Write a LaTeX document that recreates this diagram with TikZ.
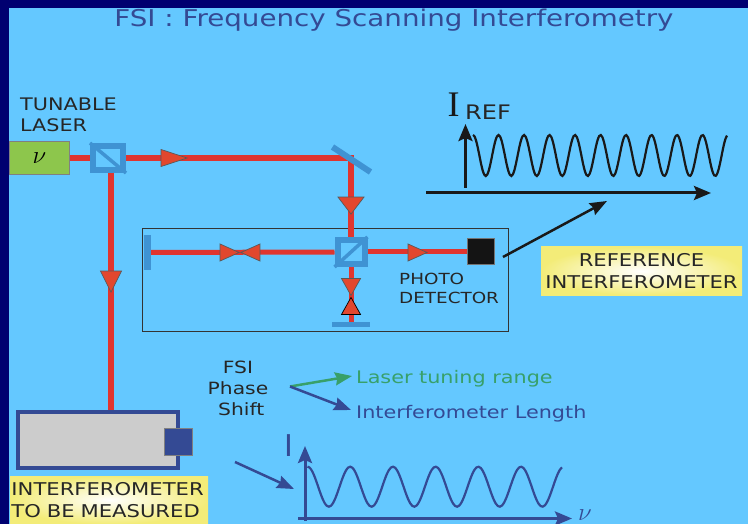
\documentclass[tikz,border=0pt]{standalone}
\usepackage{fontspec}
\setmainfont[FakeStretch=1.2]{DejaVu Sans}
\newfontfamily\seriffont{Liberation Serif}
\newfontfamily\plainfont{DejaVu Sans}
\usetikzlibrary{arrows.meta,shapes.geometric}
\definecolor{skyback}{HTML}{64C8FF}
\definecolor{navyback}{HTML}{000070}
\definecolor{beamred}{HTML}{E0352F}
\definecolor{tipred}{HTML}{E2472E}
\definecolor{optblue}{HTML}{3F93D3}
\definecolor{inkblue}{HTML}{344A94}
\definecolor{inkgreen}{HTML}{38A06A}
\definecolor{labelyellow}{HTML}{F3EC78}
\definecolor{lasergreen}{HTML}{8DC64C}
\tikzset{
	beam/.style={draw=beamred,line width=6pt},
	thinbeam/.style={draw=beamred,line width=5pt},
	tip/.style={isosceles triangle,isosceles triangle stretches,anchor=apex,fill=tipred,draw=black!65,line width=.7pt,inner sep=0pt,minimum width=26pt,minimum height=17pt},
	sidetip/.style={tip,minimum width=17pt,minimum height=19pt},
	smalltip/.style={tip,minimum width=19pt,minimum height=17pt},
	splitter/.style={draw=optblue,line width=6pt,inner sep=0pt},
	mirror/.style={fill=optblue,inner sep=0pt},
	txt/.style={inner sep=0pt,text=black!85,font=\fontsize{17.3}{21}\selectfont,align=left},
	yellowlabel/.style={inner sep=0pt,inner color=white,outer color=labelyellow,font=\fontsize{17.6}{22}\selectfont,text=black!85,align=center},
	bigarrow/.style={line width=3pt,-{Stealth[length=17pt,width=14pt,inset=3pt]}},
	thinarrow/.style={line width=2.5pt,-{Stealth[length=17pt,width=13pt,inset=2pt]}}
}
\begin{document}
\begin{tikzpicture}[x=1pt,y=-1pt]
	\useasboundingbox (0,0) rectangle (748,524);
	\fill[navyback] (0,0) rectangle (748,524);
	\fill[skyback] (9,8) rectangle (748,524);
	\node[inkblue,inner sep=0pt,font=\fontsize{23.1}{28}\selectfont] (title) at (394,20) {FSI : Frequency Scanning Interferometry};

	\node[txt,anchor=west] (lasertxt) at (20,115) {TUNABLE\\LASER};
	\node[fill=lasergreen,draw=black!50,line width=1pt,minimum width=60pt,minimum height=33pt,inner sep=0pt] (laser) at (39.5,158) {\fontsize{27}{27}\selectfont$\nu$};
	\node[splitter,minimum width=30pt,minimum height=24pt] (splitA) at (108,158) {};
	\node[splitter,minimum width=27pt,minimum height=24pt] (splitB) at (351,252) {};
	\coordinate (beamend) at (111,410);
	\node[draw=black!80,line width=.8pt,minimum width=366pt,minimum height=103pt,inner sep=0pt] (refbox) at (325,279.5) {};
	\node[mirror,minimum width=7pt,minimum height=35pt] (mirrorL) at (147.5,252.5) {};
	\node[mirror,minimum width=38pt,minimum height=5pt] (mirrorB) at (351,324.5) {};
	\node[fill=black!92,draw=black!55,line width=1pt,minimum width=27pt,minimum height=26pt,inner sep=0pt] (detector) at (481,252) {};
	\node[txt,anchor=west,font=\fontsize{15.3}{19}\selectfont] (dettxt) at (399,288.5) {PHOTO\\DETECTOR};

	\draw[beam] (laser.east) -- (splitA.west);
	\draw[beam] (splitA.east) -| (splitB.north);
	\draw[beam] (splitA.south -| beamend) -- (beamend);
	\draw[thinbeam] (mirrorL.east) -- (splitB.west);
	\draw[thinbeam] (splitB.east) -- (detector.west);
	\draw[thinbeam] (splitB.south) -- (mirrorB.north);
	\draw[optblue,line width=6pt] (332.5,147) -- (370.5,172);
	\draw[optblue,line width=3.5pt] (splitA.north west) -- (splitA.south east);
	\draw[optblue,line width=3.5pt] (splitB.south west) -- (splitB.north east);

	\node[tip,minimum width=17pt,minimum height=26pt] (tipA) at (188,158) {};
	\node[tip,rotate=-90] (tipB) at (351,215) {};
	\node[tip,rotate=-90,minimum width=21pt,minimum height=21pt] (tipC) at (111,293) {};
	\node[sidetip] (tipD) at (240,252.5) {};
	\node[sidetip,rotate=180] (tipE) at (240,252.5) {};
	\node[sidetip] (tipF) at (428,252.5) {};
	\node[smalltip,rotate=-90] (tipG) at (351,296.5) {};
	\node[smalltip,rotate=90,draw=black] (tipH) at (351,296.5) {};

	\coordinate (refstart) at (503,257);
	\coordinate (refend) at (607,201);
	\draw[thinarrow,black!90] (refstart) -- (refend);
	\node[yellowlabel,minimum width=201pt,minimum height=48pt] (reflabel) at (641.5,271) {REFERENCE\\INTERFEROMETER};

	\coordinate (xrefstart) at (426,193);
	\coordinate (xrefend) at (711,193);
	\coordinate (yrefstart) at (465.5,188);
	\coordinate (yrefend) at (465.5,124);
	\draw[bigarrow,black!90] (xrefstart) -- (xrefend);
	\draw[bigarrow,black!90] (yrefstart) -- (yrefend);
	\draw[line width=2.2pt,black!90] plot[domain=473:727,samples=160,smooth] (\x,{155.5-20.5*cos(14.1176*(\x-473))});
	\node[inner sep=0pt,font=\fontsize{36}{36}\selectfont\seriffont,text=black!90] (irefI) at (453.5,105) {I};
	\node[inner sep=0pt,anchor=west,font=\fontsize{20}{20}\selectfont,text=black!85] (irefsub) at (465,112.5) {REF};

	\node[fill=black!20,draw=inkblue,line width=3.5pt,minimum width=160pt,minimum height=56pt,inner sep=0pt] (target) at (98,440) {};
	\node[fill=inkblue,draw=black!50,line width=1.2pt,minimum width=28pt,minimum height=27pt,inner sep=0pt] (targetdet) at (178.5,442) {};
	\node[yellowlabel,minimum width=198pt,minimum height=48pt,text width=195pt,align=left] (targetlabel) at (109,500) {INTERFEROMETER\\TO BE MEASURED};

	\node[txt,align=center,font=\fontsize{16.9}{21}\selectfont] (phasetxt) at (238,388) {FSI\\Phase\\\ Shift};
	\coordinate (phasestart) at (290,386.5);
	\coordinate (rangeend) at (352,376);
	\coordinate (lengthend) at (351,410);
	\node[inkgreen,anchor=west,inner sep=0pt,font=\fontsize{17.3}{19}\selectfont] (rangetxt) at (356,379) {Laser tuning range};
	\node[inkblue,anchor=west,inner sep=0pt,font=\fontsize{17.3}{19}\selectfont] (lengthtxt) at (356,414) {Interferometer Length};
	\draw[thinarrow,inkgreen] (phasestart) -- (rangeend);
	\draw[thinarrow,inkblue] (phasestart) -- (lengthend);

	\coordinate (signalstart) at (235,462);
	\coordinate (signalend) at (294,489);
	\draw[thinarrow,inkblue] (signalstart) -- (signalend);
	\coordinate (xsigstart) at (298,518.5);
	\coordinate (xsigend) at (572,518.5);
	\coordinate (ysigstart) at (305,521);
	\coordinate (ysigend) at (305,446);
	\draw[bigarrow,inkblue] (xsigstart) -- (xsigend);
	\draw[bigarrow,inkblue] (ysigstart) -- (ysigend);
	\draw[line width=2.2pt,inkblue] plot[domain=307.5:562,samples=120,smooth] (\x,{486.7-20*cos(8.4309*(\x-307.5))});
	\node[inkblue,inner sep=0pt,font=\fontsize{30}{30}\selectfont\plainfont] (isig) at (288.5,445.5) {I};
	\node[inkblue,inner sep=0pt,font=\fontsize{26}{26}\selectfont] (nusig) at (585,515.5) {$\nu$};
\end{tikzpicture}
\end{document}
